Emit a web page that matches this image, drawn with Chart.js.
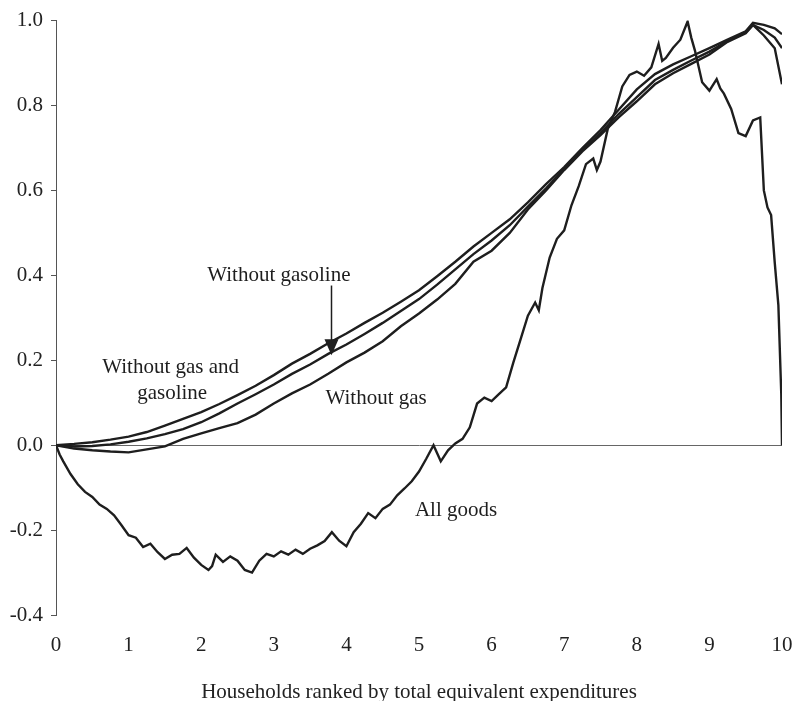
<!DOCTYPE html>
<html>
<head>
<meta charset="utf-8">
<script src="https://cdn.jsdelivr.net/npm/chart.js@4.4.1/dist/chart.umd.min.js"></script>
<style>
  html, body { margin: 0; padding: 0; background: #fff; }
  #wrap { width: 794px; height: 701px; position: relative; }
</style>
</head>
<body>
<div id="wrap"><canvas id="chart"></canvas></div>
<script>
// households ranked (deciles 0..10)
const rank = [0, 0.25, 0.5, 0.75, 1, 1.25, 1.5, 1.75, 2, 2.25, 2.5, 2.75, 3, 3.25, 3.5, 3.75,
  4, 4.25, 4.5, 4.75, 5, 5.25, 5.5, 5.75, 6, 6.25, 6.5, 6.75, 7, 7.25, 7.5, 7.75,
  8, 8.25, 8.5, 8.75, 9, 9.25, 9.5, 9.6, 9.75, 9.9, 10];

const withoutGasAndGasoline = [0, 0.003, 0.007, 0.013, 0.020, 0.031, 0.046, 0.062, 0.078, 0.097, 0.118, 0.140,
  0.165, 0.192, 0.215, 0.240, 0.263, 0.288, 0.312, 0.338, 0.365, 0.398, 0.432, 0.468,
  0.500, 0.532, 0.572, 0.615, 0.655, 0.700, 0.742, 0.790, 0.838, 0.874, 0.897, 0.916,
  0.935, 0.955, 0.975, 0.995, 0.990, 0.982, 0.968];

const withoutGasoline = [0, -0.003, -0.002, 0.002, 0.008, 0.016, 0.026, 0.038, 0.054, 0.075, 0.098, 0.120,
  0.143, 0.168, 0.190, 0.215, 0.237, 0.262, 0.288, 0.316, 0.344, 0.378, 0.414, 0.450,
  0.482, 0.518, 0.562, 0.605, 0.650, 0.695, 0.735, 0.780, 0.820, 0.860, 0.884, 0.906,
  0.927, 0.952, 0.972, 0.990, 0.978, 0.960, 0.935];

const withoutGas = [0, -0.008, -0.012, -0.015, -0.017, -0.010, -0.003, 0.015, 0.028, 0.040, 0.052, 0.072,
  0.098, 0.122, 0.143, 0.168, 0.195, 0.218, 0.245, 0.280, 0.310, 0.343, 0.380, 0.432,
  0.458, 0.500, 0.555, 0.600, 0.648, 0.692, 0.730, 0.772, 0.810, 0.850, 0.876, 0.898,
  0.920, 0.950, 0.970, 0.990, 0.965, 0.935, 0.850];

const allGoodsRank = [0, 0.05, 0.1, 0.2, 0.3, 0.4, 0.5, 0.6, 0.7, 0.8, 0.9, 1.0, 1.1, 1.2, 1.3, 1.4, 1.5,
  1.6, 1.7, 1.8, 1.9, 2.0, 2.1, 2.15, 2.2, 2.3, 2.4, 2.5, 2.6, 2.7, 2.8, 2.9, 3.0, 3.1, 3.2,
  3.3, 3.4, 3.5, 3.6, 3.7, 3.8, 3.9, 4.0, 4.1, 4.2, 4.3, 4.4, 4.5, 4.6, 4.7, 4.8, 4.9, 5.0,
  5.1, 5.2, 5.3, 5.4, 5.5, 5.6, 5.7, 5.8, 5.9, 6.0, 6.1, 6.2, 6.3, 6.4, 6.5, 6.6, 6.65, 6.7,
  6.8, 6.9, 7.0, 7.1, 7.2, 7.3, 7.4, 7.45, 7.5, 7.6, 7.7, 7.8, 7.9, 8.0, 8.1, 8.2, 8.3, 8.35,
  8.4, 8.5, 8.6, 8.7, 8.75, 8.8, 8.9, 9.0, 9.1, 9.15, 9.2, 9.3, 9.4, 9.5, 9.6, 9.7, 9.75,
  9.8, 9.85, 9.9, 9.95, 9.99, 10];

const allGoods = [0, -0.022, -0.038, -0.068, -0.092, -0.110, -0.122, -0.140, -0.150, -0.165, -0.188, -0.212, -0.218, -0.240, -0.232, -0.252, -0.268,
  -0.258, -0.256, -0.242, -0.265, -0.282, -0.294, -0.285, -0.258, -0.275, -0.262, -0.272, -0.294, -0.300, -0.272, -0.256, -0.262, -0.250, -0.258,
  -0.246, -0.256, -0.244, -0.236, -0.226, -0.205, -0.225, -0.238, -0.205, -0.185, -0.160, -0.172, -0.150, -0.140, -0.118, -0.102, -0.085, -0.062,
  -0.032, 0.000, -0.038, -0.012, 0.004, 0.015, 0.042, 0.098, 0.112, 0.104, 0.120, 0.136, 0.195, 0.250, 0.305, 0.336, 0.318, 0.370,
  0.442, 0.486, 0.506, 0.565, 0.610, 0.662, 0.675, 0.648, 0.668, 0.745, 0.785, 0.845, 0.872, 0.880, 0.870, 0.890, 0.945, 0.905,
  0.912, 0.936, 0.955, 0.998, 0.960, 0.930, 0.855, 0.835, 0.862, 0.840, 0.828, 0.792, 0.735, 0.728, 0.765, 0.772, 0.600,
  0.560, 0.542, 0.430, 0.330, 0.120, 0.000];

const yTicks = [-0.4, -0.2, 0, 0.2, 0.4, 0.6, 0.8, 1.0];

const FONT = '"Liberation Serif", "Times New Roman", serif';
const INK = '#1e1e1e';

function pairs(xs, ys) {
  return xs.map((x, i) => ({ x: x, y: ys[i] }));
}

function line(label, xs, ys) {
  return {
    label: label,
    data: pairs(xs, ys),
    borderColor: INK,
    borderWidth: 2.4,
    pointRadius: 0,
    tension: 0,
    fill: false
  };
}

// text labels and the arrow that sit inside the plot
const notes = {
  id: 'notes',
  afterDatasetsDraw(chart, args, opts) {
    const ctx = chart.ctx;
    const xs = chart.scales.x, ys = chart.scales.y;
    ctx.save();
    ctx.font = '21px ' + FONT;
    ctx.fillStyle = INK;
    ctx.textAlign = 'center';
    ctx.textBaseline = 'middle';
    opts.labels.forEach(l => {
      ctx.fillText(l.text, xs.getPixelForValue(l.x), ys.getPixelForValue(l.y));
    });

    const a = opts.arrow;
    const ax = Math.round(xs.getPixelForValue(a.x)) + 0.5;
    const y1 = ys.getPixelForValue(a.from);
    const y2 = ys.getPixelForValue(a.to);
    ctx.strokeStyle = INK;
    ctx.lineWidth = 1.5;
    ctx.beginPath();
    ctx.moveTo(ax, y1);
    ctx.lineTo(ax, y2 - 14);
    ctx.stroke();
    ctx.beginPath();
    ctx.moveTo(ax - 7, y2 - 16);
    ctx.lineTo(ax + 7, y2 - 16);
    ctx.lineTo(ax, y2);
    ctx.closePath();
    ctx.fill();
    ctx.restore();
  }
};

Chart.defaults.font.family = FONT;
Chart.defaults.font.size = 21;
Chart.defaults.color = '#222';

new Chart(document.getElementById('chart'), {
  type: 'line',
  data: {
    datasets: [
      line('Without gas and gasoline', rank, withoutGasAndGasoline),
      line('Without gasoline', rank, withoutGasoline),
      line('Without gas', rank, withoutGas),
      line('All goods', allGoodsRank, allGoods)
    ]
  },
  options: {
    responsive: true,
    maintainAspectRatio: false,
    animation: false,
    layout: { padding: { top: 19, right: 0, bottom: 0, left: 0 } },
    plugins: {
      legend: { display: false },
      tooltip: { enabled: false },
      notes: {
        labels: [
          { text: 'Without gasoline', x: 3.07, y: 0.399 },
          { text: 'Without gas and', x: 1.58, y: 0.183 },
          { text: 'gasoline', x: 1.60, y: 0.122 },
          { text: 'Without gas', x: 4.41, y: 0.110 },
          { text: 'All goods', x: 5.51, y: -0.153 }
        ],
        arrow: { x: 3.79, from: 0.376, to: 0.212 }
      }
    },
    scales: {
      x: {
        type: 'linear',
        min: 0,
        max: 10,
        grid: { display: false },
        border: { display: false },
        ticks: { stepSize: 1, padding: 10, maxRotation: 0 },
        title: {
          display: true,
          text: 'Households ranked by total equivalent expenditures',
          padding: { top: 0, bottom: -4 }
        },
        afterFit(scale) {
          scale.height = 86;
          scale.paddingRight = 12;
        }
      },
      y: {
        type: 'linear',
        min: -0.4,
        max: 1.0,
        afterBuildTicks(scale) { scale.ticks = yTicks.map(v => ({ value: v })); },
        ticks: {
          padding: 8,
          callback: v => (Math.abs(v) < 1e-9 ? 0 : v).toFixed(1)
        },
        grid: {
          color: c => (c.tick && Math.abs(c.tick.value) < 1e-9) ? '#666' : 'rgba(0,0,0,0)',
          lineWidth: 1,
          tickLength: 5,
          tickColor: '#555'
        },
        border: { display: true, color: '#555', width: 1 },
        afterFit(scale) { scale.width = 56; }
      }
    }
  },
  plugins: [notes]
});
</script>
</body>
</html>
